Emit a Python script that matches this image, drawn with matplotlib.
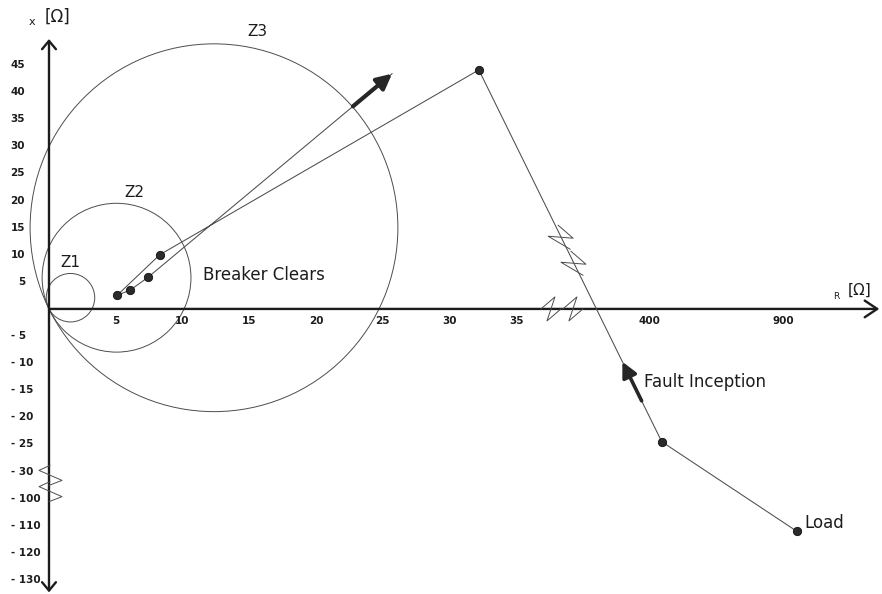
import numpy as np
import matplotlib
matplotlib.use("Agg")
import matplotlib.pyplot as plt
import matplotlib.transforms as mtransforms
from matplotlib.patches import Ellipse

INK = "#1c1c1c"
LINE = "#4d4d4d"
FONT = "DejaVu Sans"

# impedance trajectory seen by the relay (R, X in ohm): load -> pre-fault -> ... -> breaker clears
traj_r = [950, 445, 32.2, 8.3, 5.1, 6.1, 7.4]
traj_x = [-112, -24.5, 44.1, 10.0, 2.5, 3.5, 5.8]
clear_end_r, clear_end_x = 25.7, 43.4

# mho zones: circle centres (R, X), every circle goes through the origin
zone_names = ["Z1", "Z2", "Z3"]
zone_r = [1.61, 5.06, 12.36]
zone_x = [2.07, 5.76, 14.98]

xtick_vals = [5, 10, 15, 20, 25, 30, 35, 400, 900]
ytick_vals = [45, 40, 35, 30, 25, 20, 15, 10, 5, -5, -10, -15, -20, -25, -30, -100, -110, -120, -130]

# where the broken-axis marks sit
x_breaks = [130, 190]
y_breaks = [-40, -82]
traj_breaks = [0.48, 0.55]  # fraction along pre-fault -> peak segment


# broken scales: linear up to 35 ohm, then squeezed
def r_fwd(r):
    r = np.asarray(r, float)
    return np.where(r <= 35, r, np.where(r <= 400, 35 + (r - 35) * 10 / 365, 45 + (r - 400) / 50))


def r_inv(u):
    u = np.asarray(u, float)
    return np.where(u <= 35, u, np.where(u <= 45, 35 + (u - 35) * 36.5, 400 + (u - 45) * 50))


def x_fwd(x):
    x = np.asarray(x, float)
    return np.where(x >= -30, x, np.where(x >= -100, -30 + (x + 30) * 5 / 70, -35 + (x + 100) / 2))


def x_inv(v):
    v = np.asarray(v, float)
    return np.where(v >= -30, v, np.where(v >= -35, -30 + (v + 30) * 14, -100 + (v + 35) * 2))


def along(p, q, t):
    u = r_fwd(p[0]) + t * (r_fwd(q[0]) - r_fwd(p[0]))
    v = x_fwd(p[1]) + t * (x_fwd(q[1]) - x_fwd(p[1]))
    return float(r_inv(u)), float(x_inv(v))


fig = plt.figure(figsize=(8.82, 5.94), dpi=100)
fig.patch.set_facecolor("white")
ax = fig.add_axes([0, 0, 1, 1])
ax.set_xscale("function", functions=(r_fwd, r_inv))
ax.set_yscale("function", functions=(x_fwd, x_inv))
ax.set_xlim(float(r_inv(-3.67)), float(r_inv(62.4)))
ax.set_ylim(float(x_inv(-52.6)), float(x_inv(57.0)))
ax.axis("off")

# axes with open arrow heads
ax_arrow = dict(arrowstyle="->,head_length=0.45,head_width=0.3", lw=1.7, color=INK,
                mutation_scale=20, shrinkA=0, shrinkB=0)
ax.annotate("", xy=(float(r_inv(62.2)), 0), xytext=(0, 0), arrowprops=ax_arrow)
ax.annotate("", xy=(0, float(x_inv(49.8))), xytext=(0, float(x_inv(-52.3))),
            arrowprops=dict(ax_arrow, arrowstyle="<->,head_length=0.3,head_width=0.25"))

ax.annotate("x", (0, float(x_inv(49.8))), xytext=(-17, 17), textcoords="offset pixels",
            ha="center", va="center", fontsize=8, color=INK, family=FONT)
ax.annotate("[Ω]", (0, float(x_inv(49.8))), xytext=(9, 22), textcoords="offset pixels",
            ha="center", va="center", fontsize=12, color=INK, family=FONT)
ax.annotate("R", (float(r_inv(62.2)), 0), xytext=(-43, 12), textcoords="offset pixels",
            ha="center", va="center", fontsize=6.5, color=INK, family=FONT)
ax.annotate("[Ω]", (float(r_inv(62.2)), 0), xytext=(-20, 19), textcoords="offset pixels",
            ha="center", va="center", fontsize=11, color=INK, family=FONT)

# tick labels
for r in xtick_vals:
    ax.annotate(str(r), (r, 0), xytext=(0, -12), textcoords="offset pixels",
                ha="center", va="center", fontsize=7.5, color=INK, family=FONT, fontweight="bold")
for x in ytick_vals:
    if x > 0:
        ax.annotate(str(x), (0, x), xytext=(-24, 0), textcoords="offset pixels",
                    ha="right", va="center", fontsize=7.5, color=INK, family=FONT, fontweight="bold")
    else:
        ax.annotate("- " + str(-x), (0, x), xytext=(-38, 0), textcoords="offset pixels",
                    ha="left", va="center", fontsize=7.5, color=INK, family=FONT, fontweight="bold")

# mho circles (round on the page, so different half-widths in R and X units)
p0 = ax.transData.transform((0, 0))
p1 = ax.transData.transform((1, 1))
sx, sy = p1[0] - p0[0], p1[1] - p0[1]
for rc, xc in zip(zone_r, zone_x):
    rad = np.hypot(rc * sx, xc * sy)
    ax.add_patch(Ellipse((rc, xc), 2 * rad / sx, 2 * rad / sy, fill=False, lw=0.7, ec=LINE))

zone_label_pos = [(1.57, 8.5), (6.4, 21.4), (15.6, 51.1)]
for name, (lr, lx) in zip(zone_names, zone_label_pos):
    ax.text(lr, lx, name, ha="center", va="center", fontsize=11, color=INK, family=FONT)

# trajectory
path_r = traj_r + [clear_end_r]
path_x = traj_x + [clear_end_x]
ax.plot(path_r, path_x, color=LINE, lw=0.75, zorder=3)
ax.plot(traj_r, traj_x, "o", ms=6, color="#2b2b2b", mec="#111111", mew=0.6, zorder=4)

thick = dict(arrowstyle="-|>,head_length=0.5,head_width=0.25", lw=3, color="#262626",
             mutation_scale=18, shrinkA=0, shrinkB=0)
c_pt = (traj_r[-1], traj_x[-1])
ax.annotate("", xy=(clear_end_r, clear_end_x), xytext=along(c_pt, (clear_end_r, clear_end_x), 0.84),
            arrowprops=thick, zorder=5)

pre = (traj_r[1], traj_x[1])
peak = (traj_r[2], traj_x[2])
ax.annotate("", xy=along(pre, peak, 0.215), xytext=along(pre, peak, 0.11),
            arrowprops=dict(thick, lw=2.6), zorder=5)

ax.annotate("Fault Inception", along(pre, peak, 0.16), xytext=(12, 0), textcoords="offset pixels",
            ha="left", va="center", fontsize=12, color=INK, family=FONT)
ax.annotate("Load", (traj_r[0], traj_x[0]), xytext=(8, 8), textcoords="offset pixels",
            ha="left", va="center", fontsize=12, color=INK, family=FONT)
ax.text(11.5, 6.3, "Breaker Clears", ha="left", va="center", fontsize=12, color=INK, family=FONT)


# broken-axis zigzags, drawn in pixel offsets around an anchor point
def zigzag(anchor, pts):
    ox, oy = ax.transData.transform(anchor)
    tr = mtransforms.Affine2D().translate(ox, oy)
    xs, ys = zip(*pts)
    ax.plot(xs, ys, color=LINE, lw=0.7, transform=tr, zorder=4, clip_on=False)


for r in x_breaks:
    zigzag((r, 0), [(-10, 0), (4, 12), (-4, -12), (10, 0)])
for x in y_breaks:
    zigzag((0, x), [(1, 10), (-10, 5), (13, -5), (0, -10)])
for t in traj_breaks:
    zigzag(along(pre, peak, t), [(-3, 12), (12, -1), (-13, 1), (9, -12)])

fig.savefig("out.png", dpi=100, facecolor="white")
